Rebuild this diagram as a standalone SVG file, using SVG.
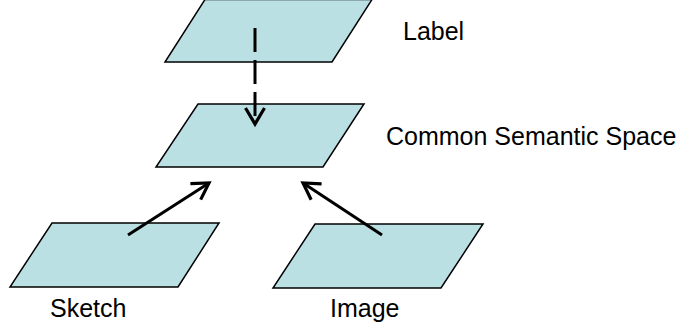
<svg xmlns="http://www.w3.org/2000/svg" width="684" height="328" viewBox="0 0 684 328">
  <style>
    .plane { fill: #BBE0E3; stroke: #000000; stroke-width: 1.5; stroke-linejoin: miter; }
    .lbl { font-family: "Liberation Sans", Arial, sans-serif; font-size: 25px; fill: #000000; }
    .conn { stroke: #000000; stroke-width: 3; fill: none; }
  </style>
  <defs>
    <marker id="arrow" viewBox="-20 -12 24 24" refX="0" refY="0" markerWidth="24" markerHeight="24" markerUnits="userSpaceOnUse" orient="auto">
      <path d="M-16,-9.5 L0,0 L-16,9.5" fill="none" stroke="#000000" stroke-width="3.2" stroke-linejoin="miter"/>
    </marker>
  </defs>
  <rect x="0" y="0" width="684" height="328" fill="#FFFFFF"/>

  <g id="node-label">
    <polygon class="plane" points="205,-0.5 372,-0.5 332,62 165,62"/>
    <text class="lbl" x="403" y="40">Label</text>
  </g>
  <g id="node-common">
    <polygon class="plane" points="198,104 364,104 323,167 156,167"/>
    <text class="lbl" x="386" y="145">Common Semantic Space</text>
  </g>
  <g id="node-sketch">
    <polygon class="plane" points="52,223 219,223 178,287 10,287"/>
    <text class="lbl" x="50" y="317">Sketch</text>
  </g>
  <g id="node-image">
    <polygon class="plane" points="315,224 483,224 441,288 273,288"/>
    <text class="lbl" x="330" y="317">Image</text>
  </g>

  <g id="connectors">
    <line class="conn" x1="255" y1="28" x2="255" y2="124" stroke-dasharray="24 8" marker-end="url(#arrow)"/>
    <line class="conn" x1="128" y1="235" x2="209" y2="183" marker-end="url(#arrow)"/>
    <line class="conn" x1="382" y1="235" x2="303" y2="183" marker-end="url(#arrow)"/>
  </g>
</svg>
